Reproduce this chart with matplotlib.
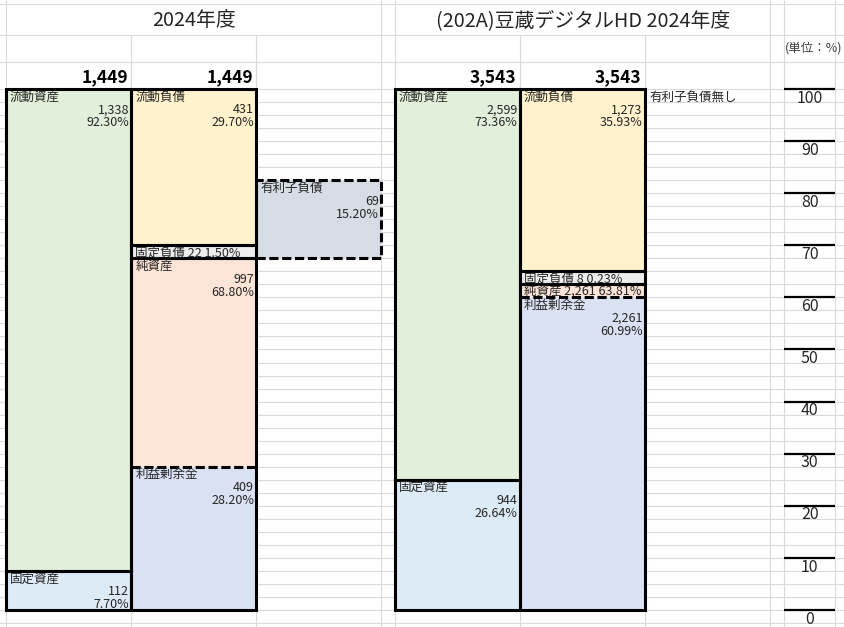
import numpy as np
import matplotlib
matplotlib.use('Agg')
import matplotlib.pyplot as plt

plt.rcParams['font.family'] = ['Noto Sans CJK JP', 'DejaVu Sans']

# Balance sheet of 2024 (left) and (202A) Mamezou Digital HD 2024 (right), drawn the way the
# spreadsheet does it: every block snapped to 2.5% rows, labels in the cells of the block.

left_title = '2024年度'
left_total = 1449
left_asset_names = ['流動資産', '固定資産']
left_asset_values = [1338, 112]
left_asset_pcts = [92.30, 7.70]
left_asset_spans = [92.5, 7.5]
left_liab_names = ['流動負債', '固定負債', '純資産']
left_liab_values = [431, 22, 997]
left_liab_pcts = [29.70, 1.50, 68.80]
left_liab_spans = [30.0, 2.5, 67.5]
left_retained = ('利益剰余金', 409, 28.20, 27.5)
left_debt = ('有利子負債', 69, 15.20, 15.0)

right_title = '(202A)豆蔵デジタルHD 2024年度'
right_total = 3543
right_asset_names = ['流動資産', '固定資産']
right_asset_values = [2599, 944]
right_asset_pcts = [73.36, 26.64]
right_asset_spans = [75.0, 25.0]
right_liab_names = ['流動負債', '固定負債', '純資産']
right_liab_values = [1273, 8, 2261]
right_liab_pcts = [35.93, 0.23, 63.81]
right_liab_spans = [35.0, 2.5, 62.5]
right_retained = ('利益剰余金', 2261, 60.99, 60.0)
right_debt_note = '有利子負債無し'

scale_ticks = list(range(0, 101, 10))
unit_label = '(単位：%)'

colors = {
    '流動資産': '#E2EFDA', '固定資産': '#DDEBF7', '流動負債': '#FFF2CC',
    '固定負債': '#EDEDED', '純資産': '#FCE4D6', '利益剰余金': '#D9E1F2',
    '有利子負債': '#D6DCE4',
}

# sheet geometry (pixels)
W, H = 845, 627
PX = 5.21          # pixels per percent
Y0 = 610           # pixel row of 0%
ROW = 2.5          # one sheet row in percent


def py(p):
    return (Y0 - p) / PX


cols = [6, 131.5, 256.5, 381.5, 395, 520, 645, 770.5, 784, 835.5]
merged = [131.5, 256.5, 520, 645]
header_rows = [py(62), py(35), py(4)]
txt = '#262626'
grid_c = '#DADADA'
dash = (0, (3, 1.2))
LW = 2.2

fig = plt.figure(figsize=(W / 100, H / 100), dpi=100, facecolor='white')
ax = fig.add_axes([0, 0, 1, 1])
ax.set_xlim(0, W)
ax.set_ylim(py(H), py(0))
ax.axis('off')

# cell grid
for y in list(np.arange(-ROW, 100 + ROW / 2, ROW)) + header_rows:
    ax.axhline(y, color=grid_c, lw=0.8, zorder=0)
for x in cols:
    top = py(35) if x in merged else py(0)
    ax.vlines(x, py(H), top, color=grid_c, lw=0.8, zorder=0)


def fill(x0, x1, top, span, color):
    ax.bar((x0 + x1) / 2, span, bottom=top - span, width=x1 - x0,
           color=color, linewidth=0, zorder=2)


def frame(x0, x1, top, span, ls='-'):
    ax.bar((x0 + x1) / 2, span, bottom=top - span, width=x1 - x0,
           fill=False, edgecolor='black', linewidth=LW, linestyle=ls, zorder=4)


def row_y(top, k):
    # baseline of the k-th row (1-based) under top
    return top - ROW * k + 1.6 / PX


def labels(x0, x1, top, name, value, pct, single=False):
    if single:
        ax.text(x0 + 4, row_y(top, 1), f'{name} {value:,} {pct:.2f}%',
                ha='left', va='baseline', fontsize=9, color=txt, zorder=5)
        return
    ax.text(x0 + 4, row_y(top, 1), name, ha='left', va='baseline',
            fontsize=9, color=txt, zorder=5)
    ax.text(x1 - 2.5, row_y(top, 2), f'{value:,}', ha='right', va='baseline',
            fontsize=9, color=txt, zorder=5)
    ax.text(x1 - 2.5, row_y(top, 3), f'{pct:.2f}%', ha='right', va='baseline',
            fontsize=9, color=txt, zorder=5)


def company(c0, title, total, a_names, a_vals, a_pcts, a_spans,
            l_names, l_vals, l_pcts, l_spans, retained):
    xa0, xa1, xl1 = cols[c0], cols[c0 + 1], cols[c0 + 2]
    ax.text((xa0 + cols[c0 + 3]) / 2, py(26.5), title, ha='center', va='baseline',
            fontsize=14.3, color=txt)
    for x in (xa1, xl1):
        ax.text(x - 3.5, py(82), f'{total:,}', ha='right', va='baseline',
                fontsize=12.5, fontweight='bold', color='black')

    # assets column
    top = 100
    for n, v, p, s in zip(a_names, a_vals, a_pcts, a_spans):
        fill(xa0, xa1, top, s, colors[n])
        frame(xa0, xa1, top, s)
        labels(xa0, xa1, top, n, v, p, single=s < 3 * ROW)
        top -= s

    # liabilities / net assets column
    top = 100
    for n, v, p, s in zip(l_names, l_vals, l_pcts, l_spans):
        fill(xa1, xl1, top, s, colors[n])
        frame(xa1, xl1, top, s)
        room = s - retained[3] if n == '純資産' else s
        labels(xa1, xl1, top, n, v, p, single=room < 3 * ROW)
        top -= s
    rn, rv, rp, rs = retained
    fill(xa1, xl1, rs, rs, colors[rn])
    ax.hlines(rs, xa1, xl1, colors='black', lw=LW, linestyles=[dash], zorder=4)
    labels(xa1, xl1, rs, rn, rv, rp)
    return xl1, l_spans[-1]


# left company
xl1, net_top = company(0, left_title, left_total, left_asset_names, left_asset_values,
                       left_asset_pcts, left_asset_spans, left_liab_names,
                       left_liab_values, left_liab_pcts, left_liab_spans, left_retained)
dn, dv, dp, ds = left_debt
fill(xl1, cols[3], net_top + ds, ds, colors[dn])
frame(xl1, cols[3], net_top + ds, ds, ls=dash)
labels(xl1, cols[3], net_top + ds, dn, dv, dp)

# right company
xr1, _ = company(4, right_title, right_total, right_asset_names, right_asset_values,
                 right_asset_pcts, right_asset_spans, right_liab_names,
                 right_liab_values, right_liab_pcts, right_liab_spans, right_retained)
ax.text(xr1 + 4, row_y(100, 1), right_debt_note, ha='left', va='baseline',
        fontsize=9, color=txt, zorder=5)

# percent scale
ax.text(cols[8] + 1, py(52), unit_label, ha='left', va='baseline',
        fontsize=9, color='#404040')
for t in scale_ticks:
    ax.hlines(t, cols[8], cols[9], colors='black', lw=1.6, zorder=4)
    ax.text((cols[8] + cols[9]) / 2, t - ROW - 0.6 / PX, str(t), ha='center',
            va='baseline', fontsize=11.5, color=txt, zorder=5)

fig.savefig('out.png', dpi=100, facecolor='white')
